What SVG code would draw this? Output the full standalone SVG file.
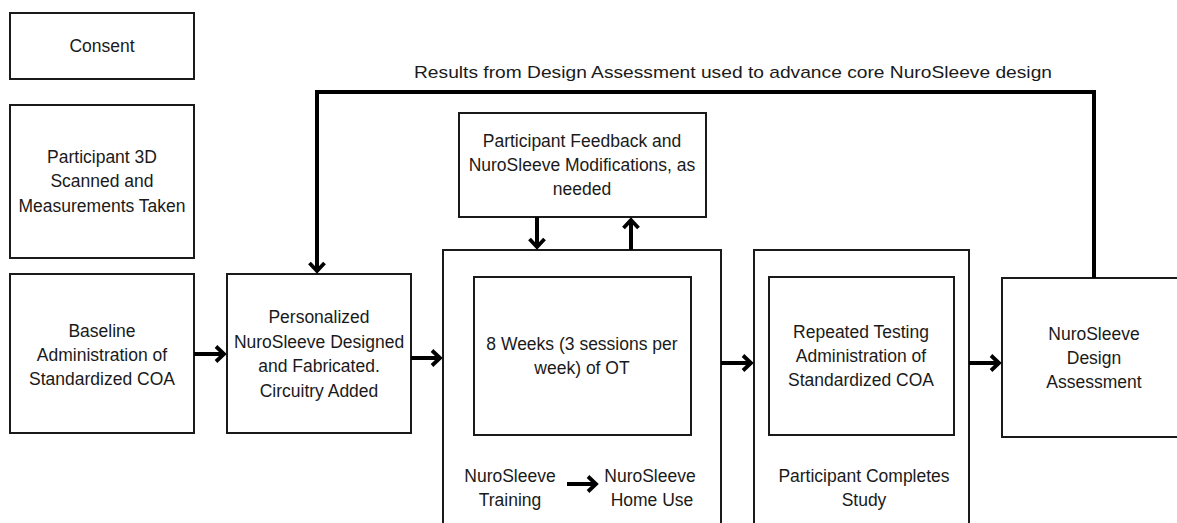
<svg xmlns="http://www.w3.org/2000/svg" width="1177" height="523" viewBox="0 0 1177 523">
<style>
.box{fill:#fff;stroke:#1a1a1a;stroke-width:2}
.t{font-family:"Liberation Sans",Arial,sans-serif;font-size:17.5px;fill:#1a1a1a;text-anchor:middle}
.c{fill:none;stroke:#000;stroke-width:4}
.fb{fill:none;stroke:#000;stroke-width:4}
</style>
<defs>
<marker id="ah" markerUnits="userSpaceOnUse" markerWidth="20" markerHeight="20" viewBox="-12 -10 14 20" refX="0" refY="0" orient="auto">
<polyline points="-8,-7.5 0,0 -8,7.5" fill="none" stroke="#000" stroke-width="3.8" stroke-linejoin="miter"/>
</marker>
</defs>
<rect width="1177" height="523" fill="#fff"/>
<g id="consent"><rect class="box" x="10" y="13" width="184" height="66"/><text class="t" x="102" y="52">Consent</text></g>
<g id="scan"><rect class="box" x="10" y="105" width="184" height="153"/><text class="t" x="102" y="163">Participant 3D</text><text class="t" x="102" y="187">Scanned and</text><text class="t" x="102" y="212">Measurements Taken</text></g>
<g id="baseline"><rect class="box" x="10" y="274" width="184" height="159"/><text class="t" x="102" y="337">Baseline</text><text class="t" x="102" y="361">Administration of</text><text class="t" x="102" y="385">Standardized COA</text></g>
<g id="personalized"><rect class="box" x="227" y="274" width="184" height="159"/><text class="t" x="319" y="323">Personalized</text><text class="t" x="319" y="348">NuroSleeve Designed</text><text class="t" x="319" y="372">and Fabricated.</text><text class="t" x="319" y="397">Circuitry Added</text></g>
<g id="feedback"><rect class="box" x="459" y="113" width="247" height="104"/><text class="t" x="582" y="147">Participant Feedback and</text><text class="t" x="582" y="171">NuroSleeve Modifications, as</text><text class="t" x="582" y="195">needed</text></g>
<g id="ot-phase"><rect class="box" x="443" y="250" width="278" height="290"/>
<rect class="box" x="474" y="277" width="217" height="158"/><text class="t" x="582" y="350">8 Weeks (3 sessions per</text><text class="t" x="582" y="374">week) of OT</text>
<text class="t" x="510" y="482">NuroSleeve</text><text class="t" x="510" y="506">Training</text>
<text class="t" x="650" y="482">NuroSleeve</text><text class="t" x="652" y="506">Home Use</text></g>
<g id="completion"><rect class="box" x="754" y="250" width="215" height="290"/>
<rect class="box" x="769" y="277" width="185" height="158"/><text class="t" x="861" y="338">Repeated Testing</text><text class="t" x="861" y="362">Administration of</text><text class="t" x="861" y="386">Standardized COA</text>
<text class="t" x="864" y="482">Participant Completes</text><text class="t" x="864" y="506">Study</text></g>
<g id="assessment"><rect class="box" x="1002" y="278" width="180" height="159"/><text class="t" x="1094" y="340">NuroSleeve</text><text class="t" x="1094" y="364">Design</text><text class="t" x="1094" y="388">Assessment</text></g>
<g id="connectors">
<line class="c" x1="194" y1="354" x2="224" y2="354" marker-end="url(#ah)"/>
<line class="c" x1="411" y1="358" x2="440" y2="358" marker-end="url(#ah)"/>
<line class="c" x1="721" y1="363" x2="751" y2="363" marker-end="url(#ah)"/>
<line class="c" x1="969" y1="363" x2="999" y2="363" marker-end="url(#ah)"/>
<line class="c" x1="537" y1="217" x2="537" y2="247" marker-end="url(#ah)"/>
<line class="c" x1="631" y1="250" x2="631" y2="220" marker-end="url(#ah)"/>
<line class="c" x1="567" y1="484" x2="596" y2="484" marker-end="url(#ah)"/>
<polyline class="fb" points="1094,278 1094,92 317,92 317,271" marker-end="url(#ah)"/>
<text x="733" y="78" style="font-family:'Liberation Sans',Arial,sans-serif;font-size:17px;fill:#1a1a1a;text-anchor:middle" textLength="638" lengthAdjust="spacingAndGlyphs">Results from Design Assessment used to advance core NuroSleeve design</text>
</g>
</svg>
